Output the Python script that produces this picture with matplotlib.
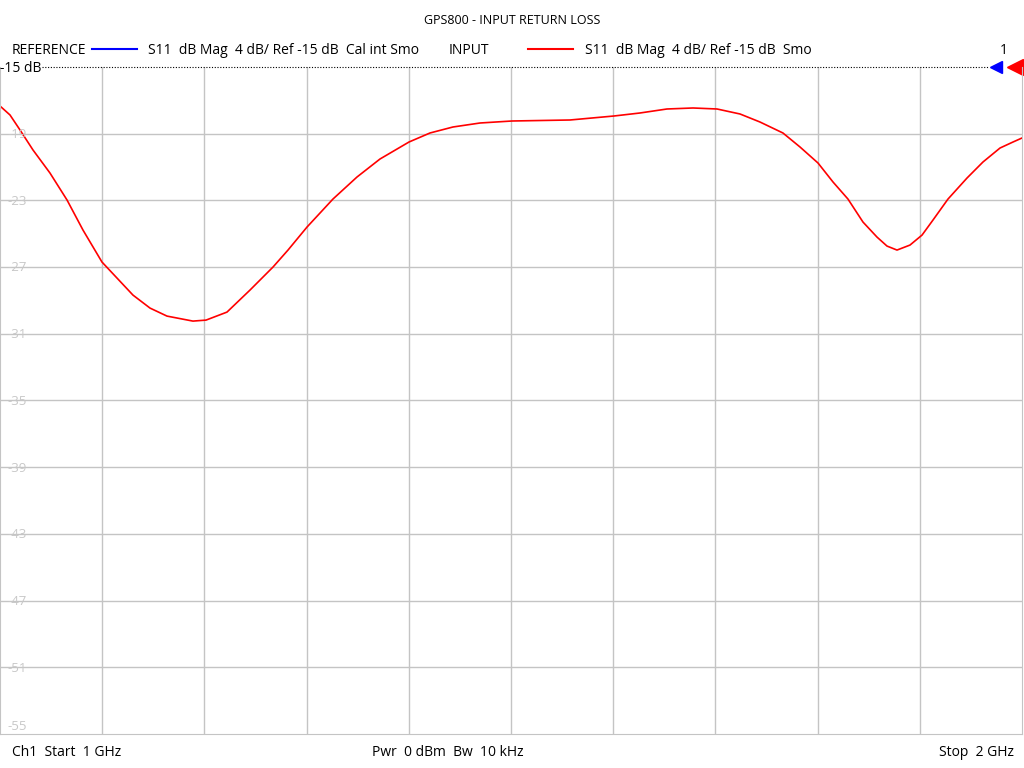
import matplotlib
matplotlib.use("Agg")
import matplotlib.pyplot as plt

# trace (GHz, dB)
freq_ghz = [1.0000, 1.0098, 1.0196, 1.0323, 1.0489, 1.0656, 1.0812, 1.0998, 1.1145, 1.1301,
            1.1468, 1.1634, 1.1888, 1.2016, 1.2221, 1.2446, 1.2671, 1.2818, 1.3004, 1.3258,
            1.3493, 1.3718, 1.4002, 1.4207, 1.4432, 1.4697, 1.5010, 1.5577, 1.6008, 1.6262,
            1.6526, 1.6781, 1.7016, 1.7241, 1.7436, 1.7661, 1.7828, 1.8004, 1.8151, 1.8297,
            1.8444, 1.8581, 1.8679, 1.8777, 1.8904, 1.9022, 1.9129, 1.9276, 1.9462, 1.9618,
            1.9785, 1.9912, 2.0000]
s11_db = [-17.34, -17.88, -18.78, -19.98, -21.36, -22.98, -24.78, -26.70, -27.66, -28.68,
          -29.46, -29.94, -30.24, -30.18, -29.70, -28.38, -27.00, -25.98, -24.60, -22.92,
          -21.60, -20.52, -19.50, -18.96, -18.60, -18.36, -18.24, -18.18, -17.94, -17.76,
          -17.52, -17.46, -17.52, -17.82, -18.30, -18.96, -19.80, -20.76, -21.90, -22.92,
          -24.30, -25.20, -25.74, -25.98, -25.68, -25.08, -24.18, -22.92, -21.66, -20.70,
          -19.86, -19.50, -19.26]

ref_db = -15
db_per_div = 4
y_ticks = [-19, -23, -27, -31, -35, -39, -43, -47, -51, -55]

plt.rcParams['font.family'] = ['Open Sans', 'DejaVu Sans']

fig = plt.figure(figsize=(10.24, 7.68), dpi=100)
ax = fig.add_axes([0.0, 0.0443, 1022 / 1024, 0.8685])

ax.set_xlim(1.0, 2.0)
ax.set_ylim(ref_db - 10 * db_per_div, ref_db)

grid_c = '#c4c4c4'
for i in range(1, 10):
    ax.axvline(1.0 + i * 0.1, color=grid_c, lw=1)
for v in y_ticks[:-1]:
    ax.axhline(v, color=grid_c, lw=1)
for v in y_ticks:
    ax.text(0.007, v + (0.45 if v == -55 else -0.05), str(v), color='#c8c8c8',
            fontsize=9.5, va='center', ha='left', transform=ax.get_yaxis_transform())

for side in ['left', 'right', 'bottom']:
    ax.spines[side].set_color(grid_c)
ax.spines['top'].set_visible(False)
ax.set_xticks([])
ax.set_yticks([])

# reference line
ax.plot([1.041, 1.968], [ref_db, ref_db], color='black', lw=0.8, ls=(0, (1, 1.5)),
        clip_on=False)
ax.text(0.0, ref_db - 0.1, '-15 dB', fontsize=10, va='center', ha='left', color='black',
        clip_on=False, transform=ax.get_yaxis_transform())

ax.plot(freq_ghz, s11_db, color='red', lw=1.2)

# markers at the reference level
ax.plot([1.975], [ref_db], marker='<', color='#0000ff', ms=8, clip_on=False)
ax.plot([1.993], [ref_db], marker='<', color='#ff0000', ms=11, clip_on=False)

# header
fig.text(0.5, 1 - 20 / 768, 'GPS800 - INPUT RETURN LOSS', ha='center', va='center',
         fontsize=9)
ly = 1 - 51 / 768
fig.text(12 / 1024, ly, 'REFERENCE', ha='left', va='center', fontsize=10)
fig.add_artist(plt.Line2D([92 / 1024, 137 / 1024], [1 - 49 / 768] * 2, color='#0000ff',
                          lw=1.5))
fig.text(148 / 1024, ly, 'S11  dB Mag  4 dB/ Ref -15 dB  Cal int Smo', ha='left',
         va='center', fontsize=10)
fig.text(449 / 1024, ly, 'INPUT', ha='left', va='center', fontsize=10)
fig.add_artist(plt.Line2D([528 / 1024, 573 / 1024], [1 - 49 / 768] * 2, color='#ff0000',
                          lw=1.5))
fig.text(585 / 1024, ly, 'S11  dB Mag  4 dB/ Ref -15 dB  Smo', ha='left',
         va='center', fontsize=10)
fig.text(1008 / 1024, ly, '1', ha='right', va='center', fontsize=10)

# footer
fy = 1 - 753 / 768
fig.text(12 / 1024, fy, 'Ch1  Start  1 GHz', ha='left', va='center', fontsize=10)
fig.text(372 / 1024, fy, 'Pwr  0 dBm  Bw  10 kHz', ha='left', va='center', fontsize=10)
fig.text(1014 / 1024, fy, 'Stop  2 GHz', ha='right', va='center', fontsize=10)

fig.savefig('out.png', dpi=100)
